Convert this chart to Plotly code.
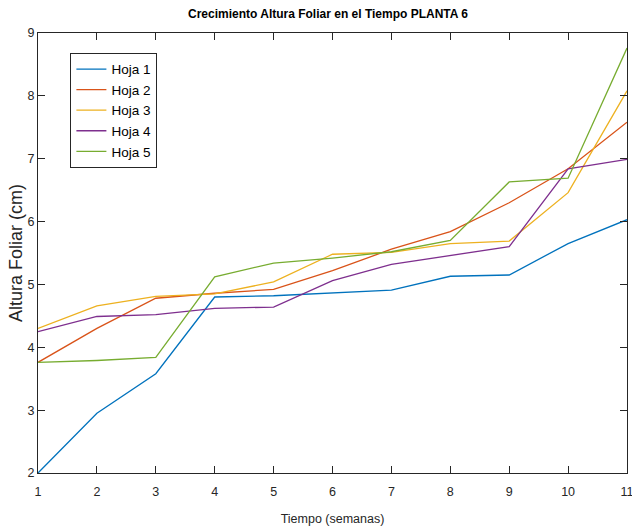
import plotly.graph_objects as go

semanas = [1, 2, 3, 4, 5, 6, 7, 8, 9, 10, 11]
hoja1 = [2.00, 2.95, 3.58, 4.80, 4.82, 4.87, 4.91, 5.13, 5.15, 5.65, 6.03]
hoja2 = [3.76, 4.30, 4.78, 4.86, 4.92, 5.22, 5.56, 5.84, 6.30, 6.84, 7.58]
hoja3 = [4.30, 4.66, 4.81, 4.85, 5.04, 5.48, 5.51, 5.65, 5.69, 6.46, 8.08]
hoja4 = [4.25, 4.49, 4.52, 4.62, 4.64, 5.06, 5.32, 5.46, 5.60, 6.84, 6.99]
hoja5 = [3.76, 3.79, 3.84, 5.12, 5.34, 5.42, 5.52, 5.70, 6.63, 6.69, 8.76]

series = [("Hoja 1", hoja1, "#0072BD"), ("Hoja 2", hoja2, "#D95319"),
          ("Hoja 3", hoja3, "#EDB120"), ("Hoja 4", hoja4, "#7E2F8E"),
          ("Hoja 5", hoja5, "#77AC30")]

narrow = "Liberation Sans Narrow, Arial Narrow, Liberation Sans, Arial, sans-serif"

fig = go.Figure()
for name, vals, color in series:
    fig.add_trace(go.Scatter(x=semanas, y=vals, mode="lines", name=name,
                             line=dict(color=color, width=1.3)))

axis_common = dict(showline=True, linecolor="#262626", linewidth=1, mirror="allticks",
                   ticks="inside", ticklen=7, tickcolor="#262626", showgrid=False,
                   zeroline=False, automargin=False, ticklabeloverflow="allow",
                   tickfont=dict(family=narrow, size=12.5, color="#262626"))

fig.update_layout(
    width=632, height=531,
    margin=dict(l=38, r=5, t=33, b=58),
    paper_bgcolor="white", plot_bgcolor="white",
    title=dict(text="<b>Crecimiento Altura Foliar en el Tiempo PLANTA 6</b>",
               x=0.519, xanchor="center", y=0.9736, yanchor="middle",
               font=dict(family=narrow, size=12, color="black")),
    xaxis=dict(range=[1, 11], dtick=1, ticklabelstandoff=7, **axis_common,
               title=dict(text="Tiempo (semanas)", standoff=16,
                          font=dict(family=narrow, size=12.5, color="#262626"))),
    yaxis=dict(range=[2, 9], dtick=1, **axis_common,
               title=dict(text="Altura Foliar (cm)", standoff=0,
                          font=dict(family="Liberation Sans, Arial, sans-serif", size=18, color="#262626"))),
    legend=dict(x=0.055, y=0.955, xanchor="left", yanchor="top",
                bgcolor="white", bordercolor="#262626", borderwidth=1,
                font=dict(family=narrow, size=13.5, color="black"),
                tracegroupgap=0),
    showlegend=True,
)

fig.write_html("out.html", config={"displayModeBar": False},
               post_script="document.body.style.margin='0';")
